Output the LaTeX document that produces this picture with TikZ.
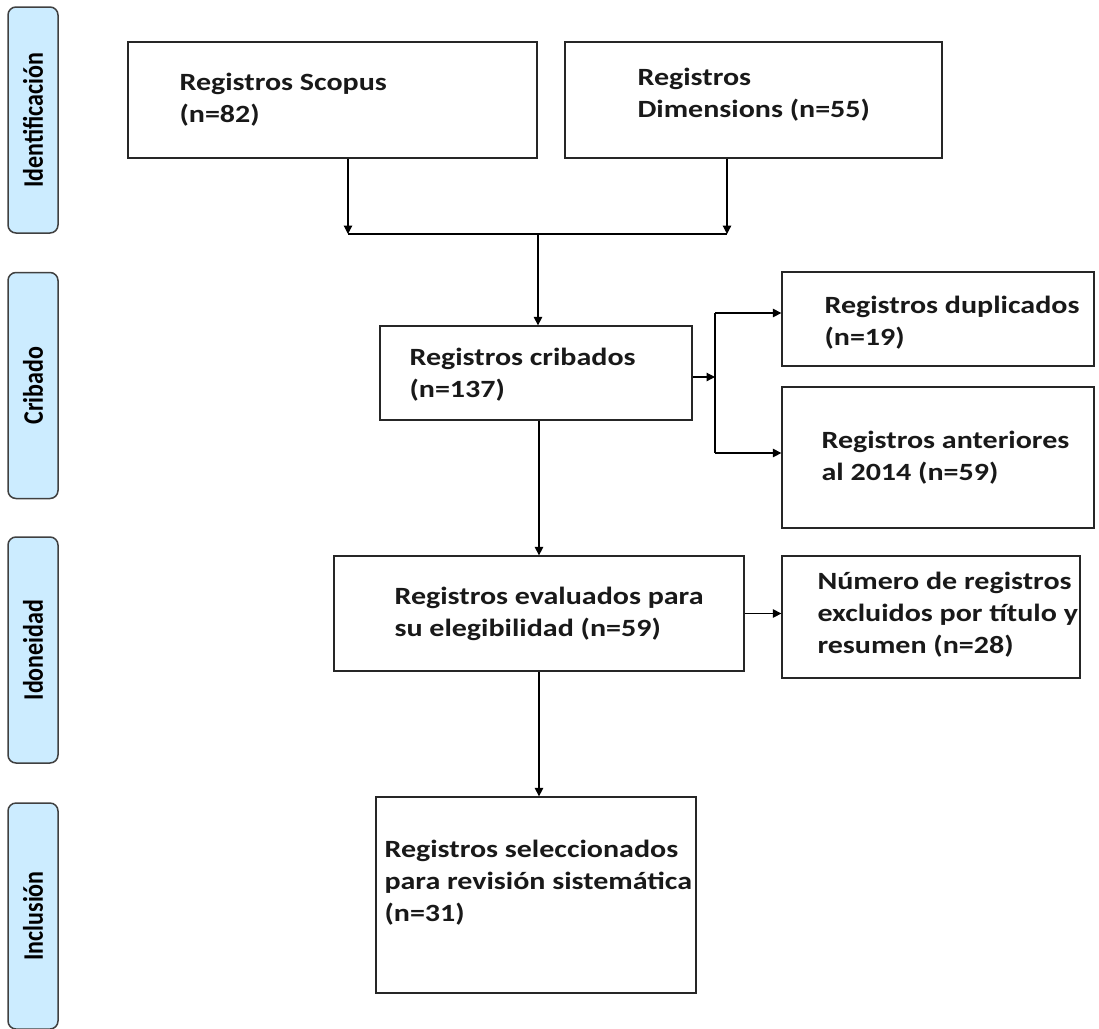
\documentclass[tikz,border=0pt]{standalone}
\usepackage{fontspec}
\newfontfamily\boxfont{Carlito}[FakeStretch=1.21]
\newfontfamily\bandfont{Carlito}
\usetikzlibrary{arrows.meta,positioning}
\definecolor{bandclr}{HTML}{CCECFF}
\newcommand{\bandlbl}[1]{\scalebox{1}[1.18]{#1}}

\begin{document}
\begin{tikzpicture}[x=1pt,y=-1pt,
  box/.style={draw=black!85,line width=1.3pt,inner sep=0pt},
  txt/.style={font=\boxfont\bfseries\fontsize{24.8}{32}\selectfont,align=left,inner sep=0pt,text=black!90},
  band/.style={draw=black!75,line width=1.5pt,fill=bandclr,rounded corners=8pt,minimum width=50,minimum height=226,inner sep=0pt},
  bandtxt/.style={font=\bandfont\bfseries\fontsize{24}{24}\selectfont,rotate=90,inner sep=0pt},
  arr/.style={-{Triangle[length=8.5pt,width=8.5pt]},line width=1.2pt}]
\useasboundingbox (0,0) rectangle (1099,1028);
% fases a la izquierda
\node[band] (ident) at (33,120) {};
\node[bandtxt] (ident-t) at (ident) {\bandlbl{Identificación}};
\node[band] (crib) at (33,385.5) {};
\node[bandtxt] (crib-t) at (crib) {\bandlbl{Cribado}};
\node[band] (idon) at (33,650) {};
\node[bandtxt] (idon-t) at (idon) {\bandlbl{Idoneidad}};
\node[band] (incl) at (33,916) {};
\node[bandtxt] (incl-t) at (incl) {\bandlbl{Inclusión}};
% cajas
\node[box,minimum width=409,minimum height=116] (scopus) at (332.5,100) {};
\node[txt,right=52pt of scopus.west] (scopus-t) {Registros Scopus\\(n=82)};
\node[box,minimum width=377,minimum height=116] (dimens) at (753.5,100) {};
\node[txt,right=73pt of dimens.west,yshift=5pt] (dimens-t) {Registros\\Dimensions (n=55)};
\node[box,minimum width=312,minimum height=94] (cribados) at (536,373) {};
\node[txt,right=30pt of cribados.west,yshift=-2pt] (cribados-t) {Registros cribados\\(n=137)};
\node[box,minimum width=312,minimum height=94] (dup) at (938,319) {};
\node[txt,right=43pt of dup.west,yshift=-4pt] (dup-t) {Registros duplicados\\(n=19)};
\node[box,minimum width=312,minimum height=141] (ant) at (938,457.5) {};
\node[txt,right=40pt of ant.west] (ant-t) {Registros anteriores\\al 2014 (n=59)};
\node[box,minimum width=410,minimum height=115] (eval) at (539,613.5) {};
\node[txt,right=61pt of eval.west] (eval-t) {Registros evaluados para\\su elegibilidad (n=59)};
\node[box,minimum width=298,minimum height=122] (num) at (931,617) {};
\node[txt,right=36pt of num.west,yshift=2pt] (num-t) {Número de registros\\excluidos por título y\\resumen (n=28)};
\node[box,minimum width=320,minimum height=196] (sel) at (536,895) {};
\node[txt,right=9pt of sel.west,yshift=12pt] (sel-t) {Registros seleccionados\\para revisión sistemática\\(n=31)};
% conectores
\coordinate (jl) at (348,234);
\coordinate (jr) at (727,234);
\coordinate (jm) at (538,234);
\coordinate (bv) at (715,377);
\coordinate (bt) at (715,313);
\coordinate (bb) at (715,453);
\draw[arr] (scopus.south -| jl) -- (jl);
\draw[arr] (dimens.south -| jr) -- (jr);
\draw[line width=1.2pt] (jl) -- (jr);
\draw[arr] (jm) -- (jm |- cribados.north);
\draw[arr] (cribados.east |- bv) -- (bv);
\draw[line width=1.2pt] (bt) -- (bb);
\draw[arr] (bt) -- (bt -| dup.west);
\draw[arr] (bb) -- (bb -| ant.west);
\draw[arr] (cribados.south -| eval.north) -- (eval.north);
\draw[arr] (eval.east) -- (eval.east -| num.west);
\draw[arr] (eval.south) -- (eval.south |- sel.north);
\end{tikzpicture}
\end{document}
